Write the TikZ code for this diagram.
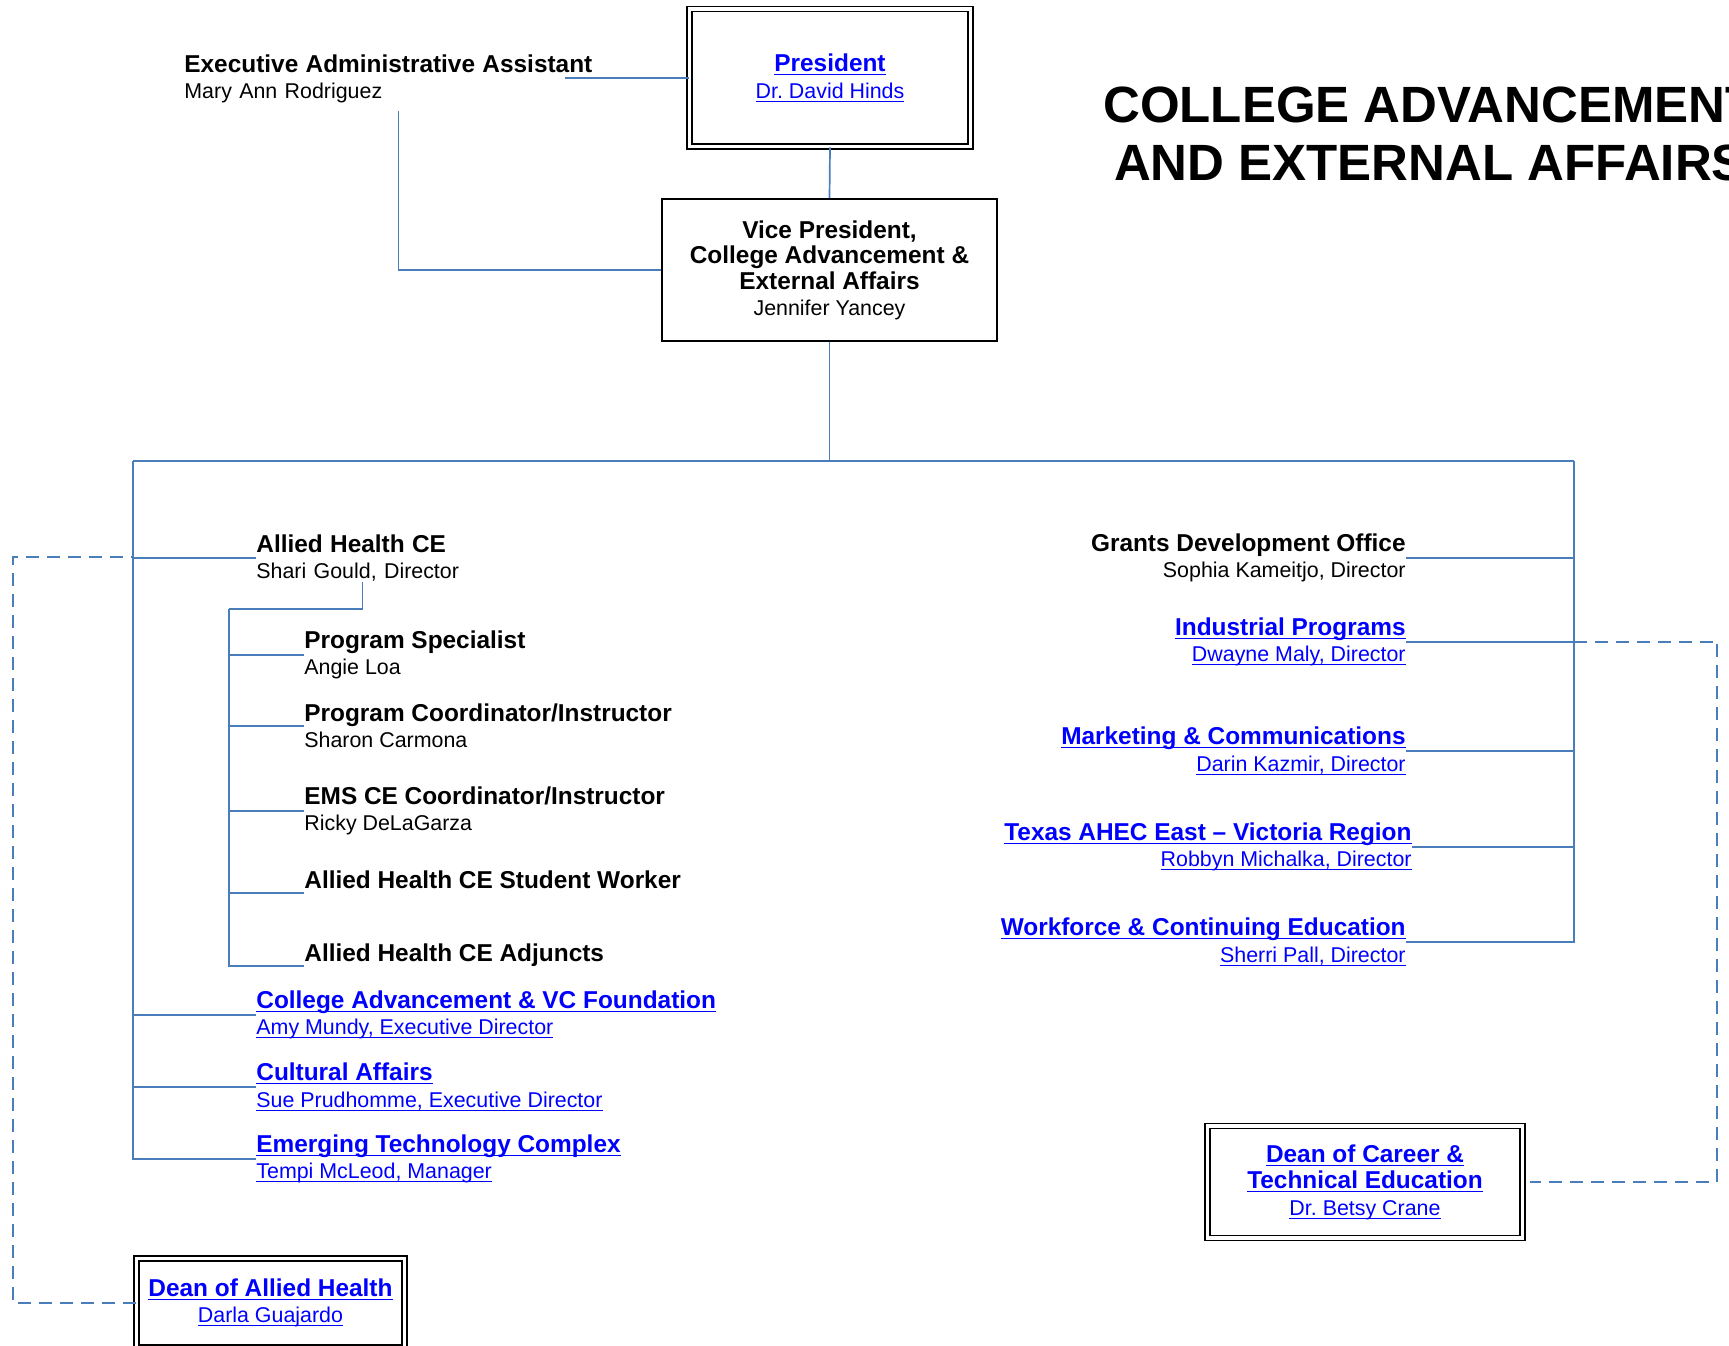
\documentclass[tikz,border=0pt]{standalone}
\usepackage{fontspec}
\setmainfont{Liberation Sans}
\usepackage{tikz}
\definecolor{lineblue}{HTML}{4A7EBB}
\definecolor{linkblue}{HTML}{0000FF}
\frenchspacing
\newsavebox{\lnkbox}
\newcommand{\ttl}[1]{{\fontsize{12.2}{13.25}\selectfont\bfseries #1}}
\newcommand{\nme}[1]{{\fontsize{10.7}{13.25}\selectfont #1}}
\newcommand{\lnk}[1]{{\color{linkblue}\sbox{\lnkbox}{#1}\usebox{\lnkbox}\llap{\rule[-1.8pt]{\wd\lnkbox}{0.55pt}}}}

\begin{document}
\begin{tikzpicture}[
  x=0.5pt, y=-0.5pt,
  font=\fontsize{11}{13.25}\selectfont,
  role/.style={inner sep=0pt, align=left, font=\fontsize{11}{13.25}\selectfont},
  roleL/.style={role, anchor=west},
  roleR/.style={role, align=right, anchor=east},
  dbox/.style={draw, double, line width=0.9pt, double distance=1.6pt, inner sep=2pt,
    align=center, font=\fontsize{11}{13.25}\selectfont},
  sbox/.style={draw, line width=0.9pt, inner sep=2pt, align=center,
    font=\fontsize{11}{12.8}\selectfont},
  link/.style={draw=lineblue, line width=0.85pt},
  dlink/.style={draw=lineblue, line width=0.85pt, dash pattern=on 6.5pt off 4pt},
]
\useasboundingbox (0,0) rectangle (1729,1345);
\clip (0,0) rectangle (1729,1345);

\node[anchor=north, align=center, inner sep=0pt,
  font=\fontsize{25.5}{29.25}\selectfont\bfseries] (title) at (1430,86)
  {COLLEGE ADVANCEMENT\\AND EXTERNAL AFFAIRS};

\node[dbox, minimum width=140.6pt, minimum height=68.75pt] (pres) at (830,77.75)
  {\ttl{\lnk{President}}\\\nme{\lnk{Dr. David Hinds}}};
\node[roleL, text width=214pt, minimum height=32pt] (exec) at (184,79)
  {\ttl{Executive Administrative Assistant}\\\nme{Mary Ann Rodriguez}};
\node[sbox, minimum width=167.6pt, minimum height=71pt] (vp) at (829.5,270)
  {\ttl{Vice President,}\\\ttl{College Advancement \&}\\\ttl{External Affairs}\\\nme{Jennifer Yancey}};

\coordinate (exR) at (565,77.75);
\coordinate (busL) at (133,461);
\coordinate (busR) at (1574,461);
\coordinate (ahbus) at (229,609);
\coordinate (dashL) at (13,557);
\coordinate (dashR) at (1717,641);

\node[roleL, text width=106pt] (ah) at (256,558)
  {\ttl{Allied Health CE}\\\nme{Shari Gould, Director}};
\node[roleL] (ps) at (304,655) {\ttl{Program Specialist}\\\nme{Angie Loa}};
\node[roleL] (pci) at (304,726) {\ttl{Program Coordinator/Instructor}\\\nme{Sharon Carmona}};
\node[roleL] (ems) at (304,811) {\ttl{EMS CE Coordinator/Instructor}\\\nme{Ricky DeLaGarza}};
\node[roleL] (sw) at (304,893) {\ttl{Allied Health CE Student Worker}\\\mbox{}};
\node[roleL] (adj) at (304,966) {\ttl{Allied Health CE Adjuncts}\\\mbox{}};
\node[roleL] (cav) at (256,1015)
  {\ttl{\lnk{College Advancement \& VC Foundation}}\\\nme{\lnk{Amy Mundy, Executive Director}}};
\node[roleL] (cul) at (256,1087)
  {\ttl{\lnk{Cultural Affairs}}\\\nme{\lnk{Sue Prudhomme, Executive Director}}};
\node[roleL] (emg) at (256,1159)
  {\ttl{\lnk{Emerging Technology Complex}}\\\nme{\lnk{Tempi McLeod, Manager}}};

\node[roleR] (gdo) at (1406,558) {\ttl{Grants Development Office}\\\nme{Sophia Kameitjo, Director}};
\node[roleR] (ind) at (1406,642)
  {\ttl{\lnk{Industrial Programs}}\\\nme{\lnk{Dwayne Maly, Director}}};
\node[roleR] (mkt) at (1406,751)
  {\ttl{\lnk{Marketing \& Communications}}\\\nme{\lnk{Darin Kazmir, Director}}};
\node[roleR] (ahec) at (1412,847)
  {\ttl{\lnk{Texas AHEC East -- Victoria Region}}\\\nme{\lnk{Robbyn Michalka, Director}}};
\node[roleR] (wce) at (1406,942)
  {\ttl{\lnk{Workforce \& Continuing Education}}\\\nme{\lnk{Sherri Pall, Director}}};

\node[dbox, minimum width=157.6pt, minimum height=56pt] (dct) at (1365,1182)
  {\ttl{\lnk{Dean of Career \&}}\\\ttl{\lnk{Technical Education}}\\\nme{\lnk{Dr. Betsy Crane}}};
\node[dbox, minimum width=134pt, minimum height=44.5pt] (dah) at (270.5,1303)
  {\ttl{\lnk{Dean of Allied Health}}\\\nme{\lnk{Darla Guajardo}}};

\draw[link] (exR) -- (pres.west);
\draw[link] (exec.south) |- (vp.west);
\draw[link] (pres.south) -- (vp.north);
\draw[link] (vp.south) -- (vp.south |- busL);
\draw[link] (busL) -- (busR);
\draw[link] (busL) |- (ah.west);
\draw[link] (busL) |- (cav.west);
\draw[link] (busL) |- (cul.west);
\draw[link] (busL) |- (emg.west);
\draw[link] (ah.south) |- (ahbus);
\draw[link] (ahbus) |- (ps.west);
\draw[link] (ahbus) |- (pci.west);
\draw[link] (ahbus) |- (ems.west);
\draw[link] (ahbus) |- (sw.west);
\draw[link] (ahbus) |- (adj.west);
\draw[link] (busR) |- (gdo.east);
\draw[link] (busR) |- (ind.east);
\draw[link] (busR) |- (mkt.east);
\draw[link] (busR) |- (ahec.east);
\draw[link] (busR) |- (wce.east);
\draw[dlink] (dah.west) -| (dashL) -- (busL |- dashL);
\draw[dlink, shorten >=3pt] (busR |- ind.east) -| (dashR) |- (dct.east);
\end{tikzpicture}
\end{document}
